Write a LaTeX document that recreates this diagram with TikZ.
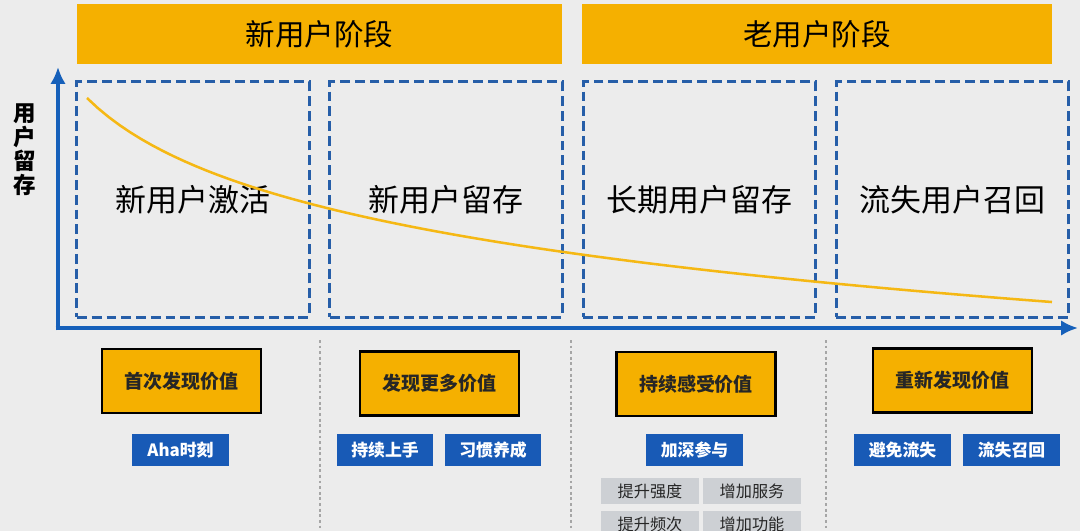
\documentclass[tikz,border=0pt]{standalone}
\usepackage{fontspec}
\usepackage{xcolor}
\usetikzlibrary{arrows.meta}
\newfontfamily\cjk{Noto Sans CJK SC}
\definecolor{backdrop}{RGB}{236,236,236}
\definecolor{stage}{RGB}{245,176,0}
\definecolor{axisblue}{RGB}{22,96,186}
\definecolor{dashblue}{RGB}{38,94,168}
\definecolor{tagblue}{RGB}{24,90,182}
\definecolor{taggray}{RGB}{205,208,212}
\definecolor{retention}{RGB}{245,184,20}
\tikzstyle{banner}=[fill=stage, minimum height=1.5cm, font=\cjk\fontsize{21}{21}\selectfont]
\tikzstyle{phase}=[draw=dashblue, line width=2.1pt, dash pattern=on 7pt off 3.5pt, minimum width=5.8cm, minimum height=5.875cm, font=\cjk\fontsize{22}{22}\selectfont]
\tikzstyle{value}=[draw=black, line width=2pt, fill=stage, minimum width=3.975cm, minimum height=1.6cm, font=\cjk\bfseries\fontsize{13.5}{13.5}\selectfont, text=black!85]
\tikzstyle{action}=[fill=tagblue, minimum width=2.4cm, minimum height=0.8cm, font=\cjk\bfseries\fontsize{12}{12}\selectfont, text=white]
\tikzset{detail/.style={fill=taggray, minimum width=2.45cm, minimum height=0.65cm, font=\cjk\fontsize{11.5}{11.5}\selectfont, text=black!85}}
\tikzset{divider/.style={draw=black!35, line width=1.4pt, dash pattern=on 2pt off 2pt}}
\tikzset{axis/.style={-{Latex[length=12pt,width=11pt]}, line width=3.5pt, color=axisblue}}

\begin{document}
\begin{tikzpicture}[x=0.025cm, y=-0.025cm]
  \fill[backdrop] (0,0) rectangle (1080,531);
  \useasboundingbox (0,0) rectangle (1080,531);

  %% Stages
  \draw (319.5,34) node[banner, minimum width=12.125cm] (newstage) {新用户阶段};
  \draw (817,34) node[banner, minimum width=11.725cm] (oldstage) {老用户阶段};

  \draw (193,199.5) node[phase] (P1) {新用户激活};
  \draw (446,199.5) node[phase] (P2) {新用户留存};
  \draw (699.5,199.5) node[phase] (P3) {长期用户留存};
  \draw (952.5,199.5) node[phase] (P4) {流失用户召回};

  %% Axes
  \coordinate (origin) at (58,328);
  \coordinate (ytip) at (58,67);
  \coordinate (xtip) at (1078,328);
  \draw[axis] ([yshift=-1.7pt]origin) -- (ytip);
  \draw[axis] ([xshift=-1.7pt]origin) -- (xtip);
  \draw (25,150) node[font=\cjk\bfseries\fontsize{16}{17}\selectfont, align=center] (ylabel) {用\\户\\留\\存};

  \draw[line width=1.8pt, color=retention] plot[domain=0:965, samples=90] ({87+\x},{98+79.4*ln(1+\x/80)});

  %% Values
  \draw (181.5,381) node[value] (V1) {首次发现价值};
  \draw (439.5,383.5) node[value] (V2) {发现更多价值};
  \draw (696,384) node[value] (V3) {持续感受价值};
  \draw (952.5,380.5) node[value] (V4) {重新发现价值};

  \draw (180.5,450) node[action] (A1) {Aha时刻};
  \draw (385,450) node[action] (A2) {持续上手};
  \draw (493,450) node[action] (A3) {习惯养成};
  \draw (694.5,450) node[action] (A4) {加深参与};
  \draw (902.5,450) node[action] (A5) {避免流失};
  \draw (1011.5,450) node[action] (A6) {流失召回};

  \draw (650,491) node[detail] (D1) {提升强度};
  \draw (752,491) node[detail] (D2) {增加服务};
  \draw (650,524) node[detail] (D3) {提升频次};
  \draw (752,524) node[detail] (D4) {增加功能};

  %% Dividers
  \foreach \x in {320,571,826}
    \draw[divider] (\x,340) -- (\x,531);
\end{tikzpicture}
\end{document}
